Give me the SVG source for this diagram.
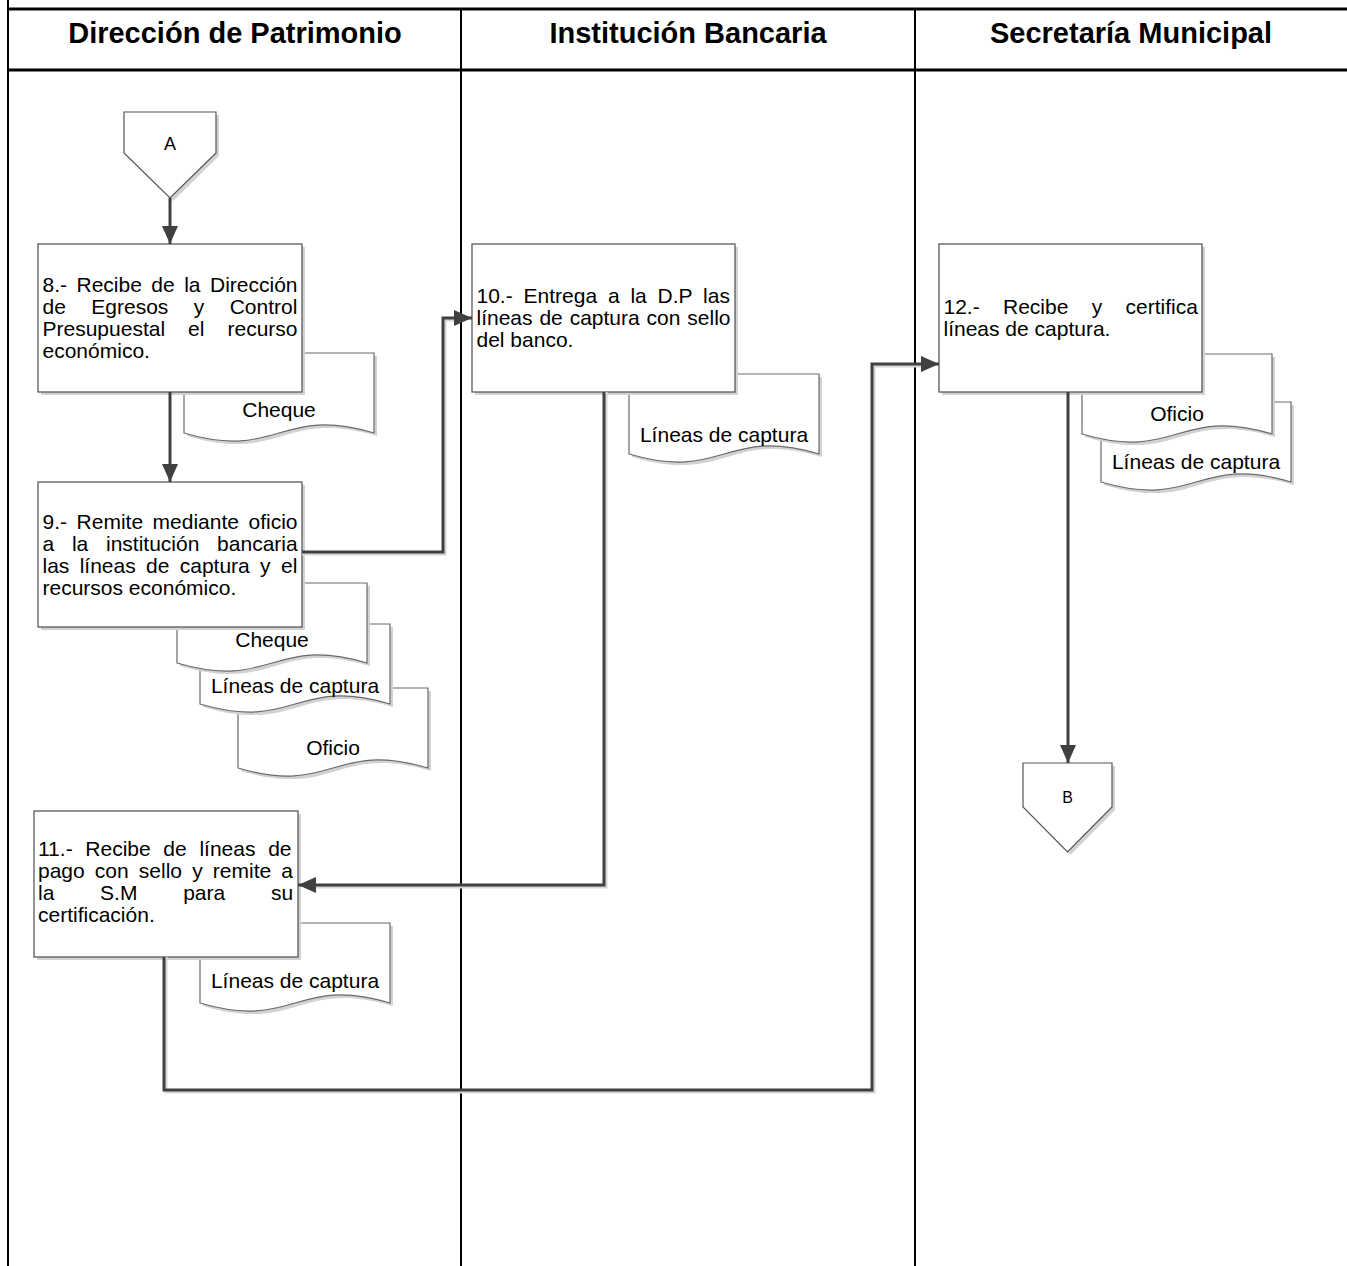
<svg xmlns="http://www.w3.org/2000/svg" xmlns:xlink="http://www.w3.org/1999/xlink" width="1347" height="1266" viewBox="0 0 1347 1266">
<style>
.lane{stroke:#000;stroke-width:2;fill:none}
.hline{stroke:#000;stroke-width:3;fill:none}
.hdr{font-family:"Liberation Sans",Arial,sans-serif;font-weight:bold;font-size:29px;text-anchor:middle;fill:#000}
.box{fill:#fff;stroke:#5a5a5a;stroke-width:1.3}
.shd{fill:#d2d2d2;stroke:none}
.doc{fill:#fff;stroke:#6a6a6a;stroke-width:1.2}
.t{font-family:"Liberation Sans",Arial,sans-serif;font-size:21px;fill:#000}
.dt{text-anchor:middle}
.conn{fill:none;stroke:#404040;stroke-width:3}
.connshd{fill:none;stroke:#d6d6d6;stroke-width:3}
.off{fill:#fff;stroke:#555;stroke-width:1.2}
</style>
<defs>
<path id="docShape" d="M0,0 H190 V80 C95,52 95,108 0,80 Z"/>
<marker id="arr" markerUnits="userSpaceOnUse" markerWidth="18" markerHeight="16" refX="18" refY="8" orient="auto">
<path d="M0,0 L18,8 L0,16 Z" fill="#404040"/>
</marker>
</defs>
<rect x="0" y="0" width="1347" height="1266" fill="#fff"/>
<g id="lanes">
<line class="lane" x1="8" y1="0" x2="8" y2="1266"/>
<line class="lane" x1="461" y1="9" x2="461" y2="1266"/>
<line class="lane" x1="915" y1="9" x2="915" y2="1266"/>
<line class="hline" x1="8" y1="9" x2="1347" y2="9"/>
<line class="hline" x1="8" y1="70" x2="1347" y2="70"/>
<text class="hdr" x="235" y="43">Dirección de Patrimonio</text>
<text class="hdr" x="688" y="43">Institución Bancaria</text>
<text class="hdr" x="1131" y="43">Secretaría Municipal</text>
</g>
<g id="nodeA">
<polygon class="shd" points="127,115 219,115 219,156 173,201 127,156"/>
<polygon class="off" points="124,112 216,112 216,153 170,198 124,153"/>
<text class="t dt" x="170" y="150" style="font-size:18px">A</text>
</g>
<g id="doc8">
<use xlink:href="#docShape" class="shd" x="187" y="356"/>
<use xlink:href="#docShape" class="doc" x="184" y="353"/>
<text class="t dt" x="279" y="417">Cheque</text>
</g>
<g id="box8">
<rect class="shd" x="41" y="247" width="264" height="148"/>
<rect class="box" x="38" y="244" width="264" height="148"/>
<text class="t" x="42.5" y="292" style="word-spacing:3.65px">8.- Recibe de la Dirección</text>
<text class="t" x="42.5" y="314" style="word-spacing:19.6px">de Egresos y Control</text>
<text class="t" x="42.5" y="336" style="word-spacing:17.2px">Presupuestal el recurso</text>
<text class="t" x="42.5" y="358">económico.</text>
</g>
<g id="doc9c">
<use xlink:href="#docShape" class="shd" x="241" y="691"/>
<use xlink:href="#docShape" class="doc" x="238" y="688"/>
<text class="t dt" x="333" y="755">Oficio</text>
</g>
<g id="doc9b">
<use xlink:href="#docShape" class="shd" x="203" y="627"/>
<use xlink:href="#docShape" class="doc" x="200" y="624"/>
<text class="t dt" x="295" y="693">Líneas de captura</text>
</g>
<g id="doc9a">
<use xlink:href="#docShape" class="shd" x="180" y="586"/>
<use xlink:href="#docShape" class="doc" x="177" y="583"/>
<text class="t dt" x="272" y="647">Cheque</text>
</g>
<g id="box9">
<rect class="shd" x="41" y="485" width="264" height="145"/>
<rect class="box" x="38" y="482" width="264" height="145"/>
<text class="t" x="42.5" y="528.5" style="word-spacing:3.7px">9.- Remite mediante oficio</text>
<text class="t" x="42.5" y="550.5" style="word-spacing:11.9px">a la institución bancaria</text>
<text class="t" x="42.5" y="572.5" style="word-spacing:4.5px">las líneas de captura y el</text>
<text class="t" x="42.5" y="594.5">recursos económico.</text>
</g>
<g id="doc10">
<use xlink:href="#docShape" class="shd" x="632" y="377"/>
<use xlink:href="#docShape" class="doc" x="629" y="374"/>
<text class="t dt" x="724" y="442">Líneas de captura</text>
</g>
<g id="box10">
<rect class="shd" x="475" y="247" width="263" height="148"/>
<rect class="box" x="472" y="244" width="263" height="148"/>
<text class="t" x="476.5" y="303" style="word-spacing:5px">10.- Entrega a la D.P las</text>
<text class="t" x="476.5" y="325" style="word-spacing:1.05px">líneas de captura con sello</text>
<text class="t" x="476.5" y="347">del banco.</text>
</g>
<g id="doc11">
<use xlink:href="#docShape" class="shd" x="203" y="926"/>
<use xlink:href="#docShape" class="doc" x="200" y="923"/>
<text class="t dt" x="295" y="988">Líneas de captura</text>
</g>
<g id="box11">
<rect class="shd" x="37" y="814" width="264" height="146"/>
<rect class="box" x="34" y="811" width="264" height="146"/>
<text class="t" x="38" y="856" style="word-spacing:6.85px">11.- Recibe de líneas de</text>
<text class="t" x="38" y="878" style="word-spacing:4.3px">pago con sello y remite a</text>
<text class="t" x="38" y="900" style="word-spacing:39.9px">la S.M para su</text>
<text class="t" x="38" y="922">certificación.</text>
</g>
<g id="doc12b">
<use xlink:href="#docShape" class="shd" x="1104" y="405"/>
<use xlink:href="#docShape" class="doc" x="1101" y="402"/>
<text class="t dt" x="1196" y="469">Líneas de captura</text>
</g>
<g id="doc12a">
<use xlink:href="#docShape" class="shd" x="1085" y="357"/>
<use xlink:href="#docShape" class="doc" x="1082" y="354"/>
<text class="t dt" x="1177" y="421">Oficio</text>
</g>
<g id="box12">
<rect class="shd" x="942" y="247" width="263" height="148"/>
<rect class="box" x="939" y="244" width="263" height="148"/>
<text class="t" x="943.5" y="314" style="word-spacing:17.5px">12.- Recibe y certifica</text>
<text class="t" x="943.5" y="336">líneas de captura.</text>
</g>
<g id="nodeB">
<polygon class="shd" points="1026,766 1115,766 1115,810 1070.5,855 1026,810"/>
<polygon class="off" points="1023,763 1112,763 1112,807 1067.5,852 1023,807"/>
<text class="t dt" x="1067.5" y="803" style="font-size:16px">B</text>
</g>
<g id="connectors">
<path class="connshd" d="M302,554 H445 V320 H458"/>
<path class="connshd" d="M606,392 V887 H315"/>
<path class="connshd" d="M166,957 V1092 H874 V366 H924"/>
<path class="conn" d="M170,198 V244" marker-end="url(#arr)"/>
<path class="conn" d="M170,392 V482" marker-end="url(#arr)"/>
<path class="conn" d="M302,552 H443 V318 H472" marker-end="url(#arr)"/>
<path class="conn" d="M604,392 V885 H298" marker-end="url(#arr)"/>
<path class="conn" d="M164,957 V1090 H872 V364 H939" marker-end="url(#arr)"/>
<path class="conn" d="M1068,392 V763" marker-end="url(#arr)"/>
</g>
</svg>
